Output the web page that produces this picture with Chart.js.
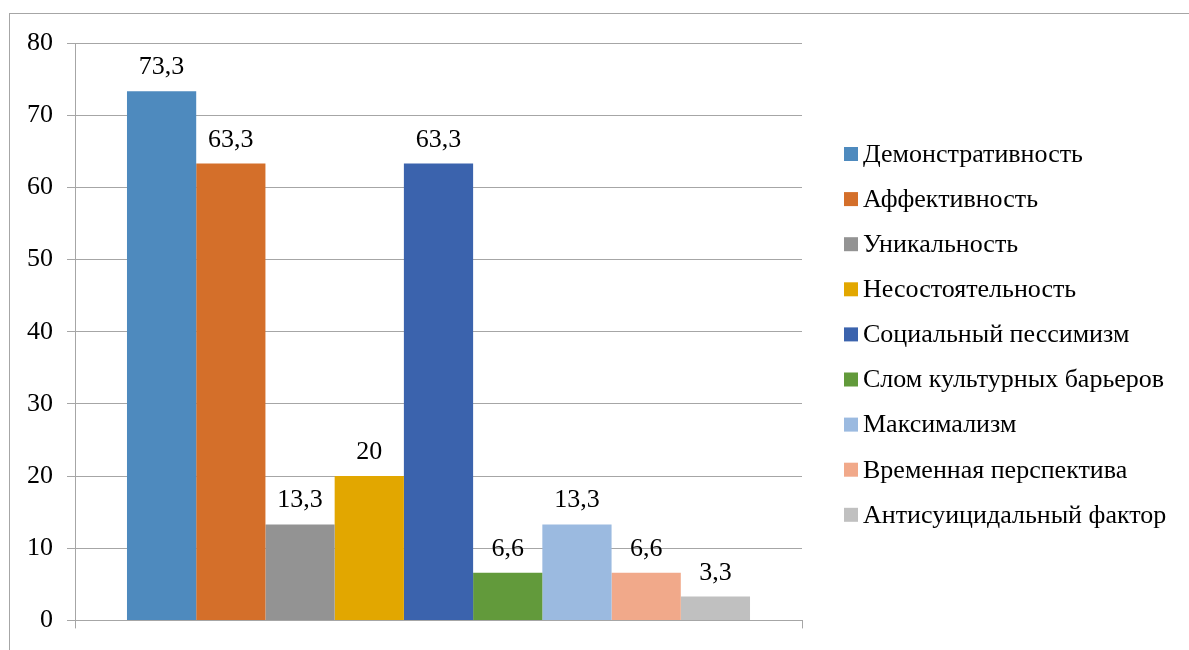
<!DOCTYPE html>
<html>
<head>
<meta charset="utf-8">
<script src="https://cdn.jsdelivr.net/npm/chart.js@4.4.1/dist/chart.umd.min.js"></script>
<style>
  html, body { margin: 0; padding: 0; background: #fff; overflow: hidden; }
  #wrap { position: relative; width: 1189px; height: 650px; }
  #frame { position: absolute; left: 9px; top: 13px; width: 1200px; height: 700px; border: 1px solid #a6a6a6; box-sizing: border-box; }
  canvas { position: absolute; left: 0; top: 0; }
</style>
</head>
<body>
<div id="wrap">
  <div id="frame"></div>
  <canvas id="chart" width="1189" height="650"></canvas>
</div>
<script>
// series names, values and colours
var seriesNames = ["Демонстративность", "Аффективность", "Уникальность", "Несостоятельность",
    "Социальный пессимизм", "Слом культурных барьеров", "Максимализм",
    "Временная перспектива", "Антисуицидальный фактор"];
var seriesValues = [73.3, 63.3, 13.3, 20, 63.3, 6.6, 13.3, 6.6, 3.3];
var seriesColors = ["#4E8ABE", "#D46F2A", "#939393", "#E2A700", "#3B63AD",
    "#629A3B", "#9BBAE0", "#F1A98A", "#C0C0C0"];
var categories = [""];

var fontFamily = "'Liberation Serif', 'Times New Roman', serif";
var gridColor = "#a6a6a6";

var datasets = [];
for (var i = 0; i < seriesNames.length; i++) {
    datasets.push({
        label: seriesNames[i],
        data: [seriesValues[i]],
        backgroundColor: seriesColors[i],
        borderWidth: 0,
        barPercentage: 1,
        categoryPercentage: 0.857
    });
}

// value labels above every bar, comma as decimal sign
var valueLabels = {
    id: "valueLabels",
    afterDatasetsDraw: function(chart) {
        var ctx = chart.ctx;
        ctx.save();
        ctx.font = "26px " + fontFamily;
        ctx.fillStyle = "#000";
        ctx.textAlign = "center";
        ctx.textBaseline = "alphabetic";
        chart.data.datasets.forEach(function(ds, i) {
            var bar = chart.getDatasetMeta(i).data[0];
            var txt = String(ds.data[0]).replace(".", ",");
            ctx.fillText(txt, bar.x, bar.y - 17);
        });
        ctx.restore();
    }
};

// legend on the right, Excel style (small square, short gap)
var sideLegend = {
    id: "sideLegend",
    afterDraw: function(chart) {
        var ctx = chart.ctx;
        var x = chart.chartArea.right + 42;
        var y = 154;
        ctx.save();
        ctx.font = "26px " + fontFamily;
        ctx.textBaseline = "middle";
        ctx.textAlign = "left";
        chart.data.datasets.forEach(function(ds, i) {
            var cy = y + i * 45.1;
            ctx.fillStyle = ds.backgroundColor;
            ctx.fillRect(x, cy - 7, 14, 14);
            ctx.fillStyle = "#000";
            ctx.fillText(ds.label, x + 19, cy + 1);
        });
        ctx.restore();
    }
};

var ctx = document.getElementById("chart").getContext("2d");
var chart = new Chart(ctx, {
    type: "bar",
    data: { labels: categories, datasets: datasets },
    plugins: [valueLabels, sideLegend],
    options: {
        responsive: false,
        animation: false,
        layout: { padding: { left: 13, top: 43, right: 387, bottom: 21 } },
        plugins: {
            legend: { display: false },
            tooltip: { enabled: false }
        },
        scales: {
            x: {
                grid: { drawOnChartArea: false, drawTicks: true, tickLength: 8, color: gridColor, offset: true },
                border: { color: gridColor },
                ticks: { display: false }
            },
            y: {
                min: 0,
                max: 80,
                ticks: { stepSize: 10, color: "#000", padding: 14, font: { family: fontFamily, size: 26 } },
                grid: { color: gridColor, tickLength: 8 },
                border: { color: gridColor }
            }
        }
    }
});
</script>
</body>
</html>
